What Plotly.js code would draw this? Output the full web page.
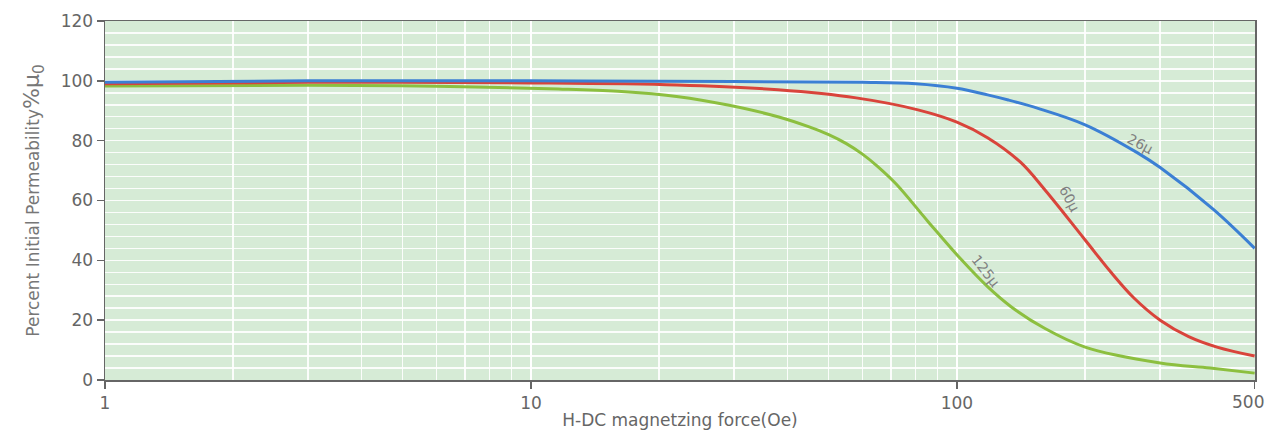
<!DOCTYPE html>
<html>
<head>
<meta charset="utf-8">
<script src="https://cdn.plot.ly/plotly-3.0.1.min.js"></script>
<style>html,body{margin:0;padding:0;background:#fff;}#chart{width:1268px;height:437px;}</style>
</head>
<body>
<div id="chart"></div>
<script>
// 26µ curve
const x26 = [1, 3, 10, 30, 60, 80, 100, 118, 132, 155, 200, 265, 300, 400, 500];
const y26 = [99.5, 100, 100, 99.8, 99.5, 99, 97.5, 95.3, 93.6, 90.8, 85.3, 76, 71, 57, 44];
// 60µ curve
const x60 = [1, 3, 10, 22, 38, 58, 81, 100, 118, 141, 161, 200, 230, 260, 300, 350, 408, 500];
const y60 = [99, 99.5, 99.3, 98.6, 97, 94.3, 90.3, 86.2, 81, 72.8, 63.5, 46.8, 36, 27.5, 20, 14.5, 11, 8];
// 125µ curve
const x125 = [1, 3, 6, 11.6, 16, 22.2, 29, 38, 45, 50, 55, 60, 65, 72, 85.5, 102, 118, 134, 161, 200, 300, 393, 500];
const y125 = [98.3, 98.5, 98.2, 97.3, 96.5, 94.7, 91.9, 88, 84.6, 82, 79, 75.5, 71.5, 65.5, 53, 40.5, 31.2, 24.5, 17.2, 11, 5.7, 4, 2.3];

const xTicks = [1, 10, 100, 500];
const xTickText = ['1', '10', '100', '500'];
const labels = [
  {text: '26µ', x: 270, y: 79, angle: 28},
  {text: '60µ', x: 184, y: 60.5, angle: 62},
  {text: '125µ', x: 117, y: 36.5, angle: 52}
];

const mk = (x, y, c, n) => ({x: x, y: y, type: 'scatter', mode: 'lines', name: n,
  line: {color: c, width: 3, shape: 'spline', smoothing: 1}, hoverinfo: 'none'});

const data = [
  mk(x125, y125, '#8cbf3f', '125µ'),
  mk(x60, y60, '#d9443b', '60µ'),
  mk(x26, y26, '#3b7fd4', '26µ')
];

const last = xTickText.length - 1;
const grid = 'rgba(255,255,255,0.9)';
const annotations = labels.map(l => ({
  x: Math.log10(l.x), y: l.y, xref: 'x', yref: 'y', text: l.text,
  showarrow: false, textangle: l.angle,
  font: {size: 14, color: '#808080'}
}));
// the last tick label sits inside the right edge, as in the reference
annotations.push({
  x: Math.log10(xTicks[last]), y: 0, xref: 'x', yref: 'y', text: xTickText[last],
  showarrow: false, xanchor: 'right', yanchor: 'top', xshift: 11, yshift: -10,
  font: {size: 17, color: '#666'}
});

const layout = {
  width: 1268, height: 437,
  margin: {l: 105, r: 13, t: 21, b: 57},
  paper_bgcolor: '#ffffff',
  plot_bgcolor: '#d6ebd6',
  showlegend: false,
  font: {family: 'DejaVu Sans, Liberation Sans, Arial, sans-serif', color: '#666'},
  xaxis: {
    type: 'log', range: [0, Math.log10(500) + 0.0008],
    tickmode: 'array', tickvals: xTicks, ticktext: xTickText.map((t, i) => i === last ? '' : t),
    ticks: 'outside', ticklen: 7, tickcolor: '#666', tickwidth: 1.5,
    tickfont: {size: 17, color: '#666'},
    showline: true, linecolor: '#666', linewidth: 1.5, mirror: true,
    showgrid: true, gridcolor: grid, gridwidth: 1.5,
    minor: {dtick: 'D1', showgrid: true, gridcolor: grid, gridwidth: 1.5, ticks: ''},
    zeroline: false,
    title: {text: 'H-DC magnetzing force(Oe)', font: {size: 17, color: '#666'}, standoff: 2}
  },
  yaxis: {
    range: [0, 120], tickmode: 'linear', tick0: 0, dtick: 20,
    ticks: 'outside', ticklen: 7, tickcolor: '#666', tickwidth: 1.5,
    tickfont: {size: 17, color: '#666'},
    showline: true, linecolor: '#666', linewidth: 1.5, mirror: true,
    showgrid: true, gridcolor: grid, gridwidth: 1.5,
    minor: {dtick: 4, showgrid: true, gridcolor: grid, gridwidth: 1.5, ticks: ''},
    zeroline: false,
    title: {text: 'Percent Initial Permeability<span style="font-size:22px">%µ<sub>0</sub></span>', font: {size: 17, color: '#777'}, standoff: 16}
  },
  annotations: annotations
};

Plotly.newPlot('chart', data, layout, {staticPlot: true, displayModeBar: false});
</script>
</body>
</html>
